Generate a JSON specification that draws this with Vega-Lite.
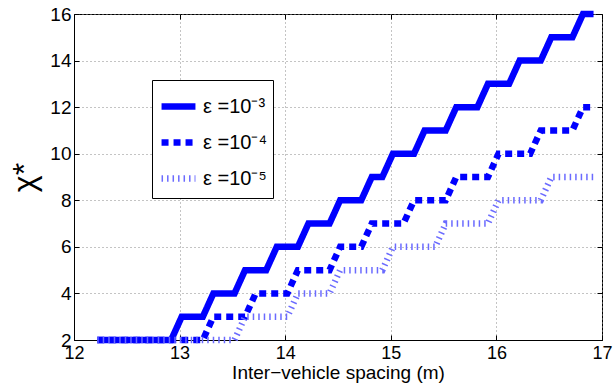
{
  "$schema": "https://vega.github.io/schema/vega-lite/v6.json",
  "width": 528,
  "height": 326,
  "autosize": {"type": "none"},
  "padding": {"left": 74, "top": 14, "right": 12, "bottom": 45},
  "background": "white",
  "config": {
    "view": {"stroke": "black", "strokeWidth": 1},
    "font": "Liberation Sans",
    "axis": {"labelFont": "Liberation Sans Narrow, Liberation Sans", "titleFont": "Liberation Sans", "labelColor": "black", "titleColor": "black", "domainColor": "black", "tickColor": "black"}
  },
  "data": {
    "values": [
      {"s": "ε =10⁻³", "x": 12.22, "y": 2}, {"s": "ε =10⁻³", "x": 12.92, "y": 2},
      {"s": "ε =10⁻³", "x": 13.02, "y": 3}, {"s": "ε =10⁻³", "x": 13.22, "y": 3},
      {"s": "ε =10⁻³", "x": 13.32, "y": 4}, {"s": "ε =10⁻³", "x": 13.52, "y": 4},
      {"s": "ε =10⁻³", "x": 13.62, "y": 5}, {"s": "ε =10⁻³", "x": 13.82, "y": 5},
      {"s": "ε =10⁻³", "x": 13.92, "y": 6}, {"s": "ε =10⁻³", "x": 14.12, "y": 6},
      {"s": "ε =10⁻³", "x": 14.22, "y": 7}, {"s": "ε =10⁻³", "x": 14.42, "y": 7},
      {"s": "ε =10⁻³", "x": 14.52, "y": 8}, {"s": "ε =10⁻³", "x": 14.72, "y": 8},
      {"s": "ε =10⁻³", "x": 14.82, "y": 9}, {"s": "ε =10⁻³", "x": 14.92, "y": 9},
      {"s": "ε =10⁻³", "x": 15.02, "y": 10}, {"s": "ε =10⁻³", "x": 15.22, "y": 10},
      {"s": "ε =10⁻³", "x": 15.32, "y": 11}, {"s": "ε =10⁻³", "x": 15.52, "y": 11},
      {"s": "ε =10⁻³", "x": 15.62, "y": 12}, {"s": "ε =10⁻³", "x": 15.82, "y": 12},
      {"s": "ε =10⁻³", "x": 15.92, "y": 13}, {"s": "ε =10⁻³", "x": 16.12, "y": 13},
      {"s": "ε =10⁻³", "x": 16.22, "y": 14}, {"s": "ε =10⁻³", "x": 16.42, "y": 14},
      {"s": "ε =10⁻³", "x": 16.52, "y": 15}, {"s": "ε =10⁻³", "x": 16.72, "y": 15},
      {"s": "ε =10⁻³", "x": 16.82, "y": 16}, {"s": "ε =10⁻³", "x": 16.92, "y": 16},
      {"s": "ε =10⁻⁴", "x": 12.22, "y": 2}, {"s": "ε =10⁻⁴", "x": 13.22, "y": 2},
      {"s": "ε =10⁻⁴", "x": 13.32, "y": 3}, {"s": "ε =10⁻⁴", "x": 13.62, "y": 3},
      {"s": "ε =10⁻⁴", "x": 13.72, "y": 4}, {"s": "ε =10⁻⁴", "x": 14.02, "y": 4},
      {"s": "ε =10⁻⁴", "x": 14.12, "y": 5}, {"s": "ε =10⁻⁴", "x": 14.42, "y": 5},
      {"s": "ε =10⁻⁴", "x": 14.52, "y": 6}, {"s": "ε =10⁻⁴", "x": 14.72, "y": 6},
      {"s": "ε =10⁻⁴", "x": 14.82, "y": 7}, {"s": "ε =10⁻⁴", "x": 15.12, "y": 7},
      {"s": "ε =10⁻⁴", "x": 15.22, "y": 8}, {"s": "ε =10⁻⁴", "x": 15.52, "y": 8},
      {"s": "ε =10⁻⁴", "x": 15.62, "y": 9}, {"s": "ε =10⁻⁴", "x": 15.92, "y": 9},
      {"s": "ε =10⁻⁴", "x": 16.02, "y": 10}, {"s": "ε =10⁻⁴", "x": 16.32, "y": 10},
      {"s": "ε =10⁻⁴", "x": 16.42, "y": 11}, {"s": "ε =10⁻⁴", "x": 16.72, "y": 11},
      {"s": "ε =10⁻⁴", "x": 16.82, "y": 12}, {"s": "ε =10⁻⁴", "x": 16.92, "y": 12},
      {"s": "ε =10⁻⁵", "x": 12.22, "y": 2}, {"s": "ε =10⁻⁵", "x": 13.52, "y": 2},
      {"s": "ε =10⁻⁵", "x": 13.62, "y": 3}, {"s": "ε =10⁻⁵", "x": 14.02, "y": 3},
      {"s": "ε =10⁻⁵", "x": 14.12, "y": 4}, {"s": "ε =10⁻⁵", "x": 14.42, "y": 4},
      {"s": "ε =10⁻⁵", "x": 14.52, "y": 5}, {"s": "ε =10⁻⁵", "x": 14.92, "y": 5},
      {"s": "ε =10⁻⁵", "x": 15.02, "y": 6}, {"s": "ε =10⁻⁵", "x": 15.42, "y": 6},
      {"s": "ε =10⁻⁵", "x": 15.52, "y": 7}, {"s": "ε =10⁻⁵", "x": 15.92, "y": 7},
      {"s": "ε =10⁻⁵", "x": 16.02, "y": 8}, {"s": "ε =10⁻⁵", "x": 16.42, "y": 8},
      {"s": "ε =10⁻⁵", "x": 16.52, "y": 9}, {"s": "ε =10⁻⁵", "x": 16.92, "y": 9}
    ]
  },
  "layer": [
    {
      "mark": {"type": "line", "strokeCap": "butt", "strokeJoin": "miter"},
      "encoding": {
        "x": {
          "field": "x", "type": "quantitative",
          "scale": {"domain": [12, 17], "nice": false, "zero": false},
          "axis": {"orient": "bottom", "values": [12, 13, 14, 15, 16, 17], "format": "d", "title": "Inter−vehicle spacing (m)", "titleFontSize": 19, "titleFontWeight": "normal", "titlePadding": 1, "labelFontSize": 18, "tickSize": -5, "labelPadding": 9, "grid": true, "gridDash": [1, 3], "gridColor": "#888888", "gridOpacity": 1, "labelFlush": false}
        },
        "y": {
          "field": "y", "type": "quantitative",
          "scale": {"domain": [2, 16], "nice": false, "zero": false},
          "axis": {"orient": "left", "values": [2, 4, 6, 8, 10, 12, 14, 16], "title": "χ*", "titleAngle": 270, "titleFontSize": 32, "titleFontWeight": "normal", "titlePadding": 8, "labelFontSize": 19, "tickSize": -5, "labelPadding": 8, "grid": true, "gridDash": [1, 3], "gridColor": "#888888", "gridOpacity": 1, "labelFlush": false}
        },
        "color": {
          "field": "s", "type": "nominal",
          "scale": {"domain": ["ε =10⁻³", "ε =10⁻⁴", "ε =10⁻⁵"], "range": ["#0000ff", "#0000ff", "#6b6bff"]},
          "legend": {"orient": "none", "legendX": 78, "legendY": 66, "title": null, "direction": "vertical", "strokeColor": "black", "fillColor": "white", "padding": 6, "symbolType": "stroke", "symbolSize": 1150, "labelFontSize": 20, "labelFont": "Liberation Sans", "labelColor": "black", "labelOffset": 4, "rowPadding": 2, "symbolOpacity": 1}
        },
        "strokeDash": {
          "field": "s", "type": "nominal",
          "scale": {"domain": ["ε =10⁻³", "ε =10⁻⁴", "ε =10⁻⁵"], "range": [[1, 0], [7, 5], [1.5, 4]]}
        },
        "strokeWidth": {
          "field": "s", "type": "nominal",
          "scale": {"domain": ["ε =10⁻³", "ε =10⁻⁴", "ε =10⁻⁵"], "range": [6.5, 6.5, 8]}
        }
      }
    },
    {
      "mark": {"type": "line", "opacity": 0},
      "encoding": {
        "x": {"field": "x", "type": "quantitative", "axis": {"orient": "top", "values": [12, 13, 14, 15, 16, 17], "labels": false, "domain": false, "tickSize": -5, "grid": false, "title": null}},
        "y": {"field": "y", "type": "quantitative", "axis": {"orient": "right", "values": [2, 4, 6, 8, 10, 12, 14, 16], "labels": false, "domain": false, "tickSize": -5, "grid": false, "title": null}}
      }
    }
  ],
  "resolve": {"axis": {"x": "independent", "y": "independent"}}
}
